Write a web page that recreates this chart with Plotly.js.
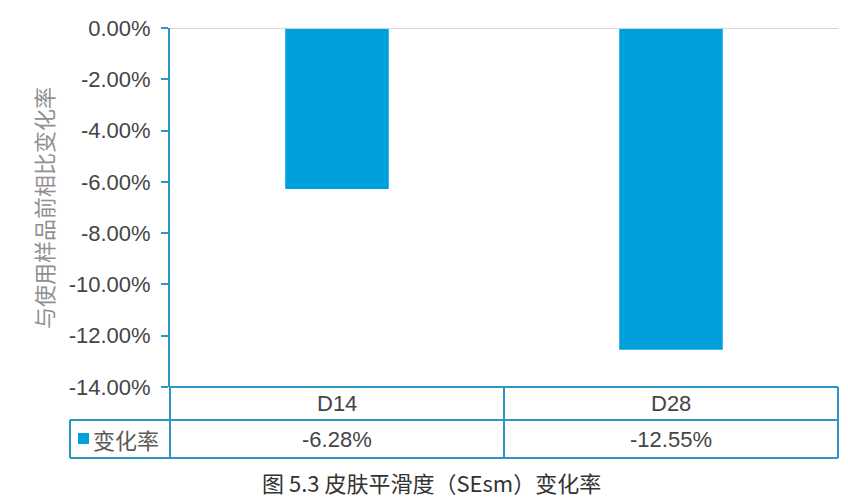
<!DOCTYPE html>
<html>
<head>
<meta charset="utf-8">
<script src="https://cdn.plot.ly/plotly-3.0.1.min.js"></script>
<style>
  html, body { margin: 0; padding: 0; background: #fff; }
  #chart { width: 848px; height: 498px; }
</style>
</head>
<body>
<div id="chart"></div>
<script>
// data
const categories = ["D14", "D28"];
const changeRate = [-6.28, -12.55];
const seriesName = "变化率";
const yTickVals = [0, -2, -4, -6, -8, -10, -12, -14];
const yTickText = ["0.00%", "-2.00%", "-4.00%", "-6.00%", "-8.00%", "-10.00%", "-12.00%", "-14.00%"];
const yTitle = "与使用样品前相比变化率";
const caption = "图 5.3 皮肤平滑度（SEsm）变化率";

const barColor = "#009fdd";
const lineColor = "#2a98c0";
const textColor = "#454545";
const latin = "Liberation Sans, Arial, sans-serif";
const cjk = "Noto Sans CJK SC, sans-serif";

// plot box in pixels, used to place the data table under the axis
const W = 848, H = 498;
const L = 170, R = 838, T = 28, B = 387;
const px = (x) => (x - L) / (R - L);
const py = (y) => (B - y) / (B - T);

const row1Bottom = 420;
const row2Bottom = 458;
const legendLeft = 70;

let trace = {
  x: categories,
  y: changeRate,
  type: "bar",
  name: seriesName,
  marker: { color: barColor },
  hoverinfo: "skip",
};

function seg(x0, y0, x1, y1, color, width) {
  return {
    type: "line", xref: "paper", yref: "paper",
    x0: px(x0), y0: py(y0), x1: px(x1), y1: py(y1),
    line: { color: color, width: width },
  };
}

let shapes = [
  // zero line along the top
  { type: "line", xref: "paper", yref: "y", x0: 0, x1: 1, y0: 0, y1: 0,
    line: { color: "#d4d4d4", width: 2 } },
  // data table grid
  seg(L, B, R, B, lineColor, 2),
  seg(legendLeft, row1Bottom, R, row1Bottom, lineColor, 2),
  seg(legendLeft, row2Bottom, R, row2Bottom, lineColor, 2),
  seg(L, B, L, row2Bottom, lineColor, 2),
  seg(R, B, R, row2Bottom, lineColor, 2),
  seg(legendLeft, row1Bottom, legendLeft, row2Bottom, lineColor, 2),
  { type: "line", xref: "x", yref: "paper", x0: 0.5, x1: 0.5,
    y0: py(B), y1: py(row2Bottom), line: { color: lineColor, width: 2 } },
  // legend key
  { type: "rect", xref: "paper", yref: "paper",
    x0: px(78), x1: px(89), y0: py(433), y1: py(444),
    fillcolor: barColor, line: { width: 0 } },
];

let annotations = [];
categories.forEach(function (c, i) {
  annotations.push({
    x: c, xref: "x", y: py((B + row1Bottom) / 2), yref: "paper",
    text: c, showarrow: false, yanchor: "middle",
    font: { family: latin, size: 22, color: textColor },
  });
  annotations.push({
    x: c, xref: "x", y: py((row1Bottom + row2Bottom) / 2), yref: "paper",
    text: changeRate[i].toFixed(2) + "%", showarrow: false, yanchor: "middle",
    font: { family: latin, size: 22, color: textColor },
  });
});
annotations.push({
  x: px(91), xref: "paper", y: py((row1Bottom + row2Bottom) / 2), yref: "paper",
  text: seriesName, showarrow: false, xanchor: "left", yanchor: "middle",
  font: { family: cjk, size: 22, color: "#5a5a5a" },
});
annotations.push({
  x: px(43), xref: "paper", y: py(208), yref: "paper",
  text: yTitle, textangle: -90, showarrow: false,
  xanchor: "center", yanchor: "middle",
  font: { family: cjk, size: 22, color: "#909090" },
});
annotations.push({
  x: px(431), xref: "paper", y: py(482), yref: "paper",
  text: caption, showarrow: false, xanchor: "center", yanchor: "middle",
  borderpad: 0,
  font: { family: cjk, size: 22, color: "#333333" },
});

let layout = {
  width: W,
  height: H,
  margin: { l: L, r: W - R, t: T, b: H - B, pad: 0 },
  paper_bgcolor: "#ffffff",
  plot_bgcolor: "#ffffff",
  showlegend: false,
  bargap: 0.69,
  xaxis: {
    type: "category",
    range: [-0.5, 1.5],
    showticklabels: false,
    ticks: "",
    showgrid: false,
    zeroline: false,
    showline: false,
    fixedrange: true,
  },
  yaxis: {
    range: [-14, 0],
    tickmode: "array",
    tickvals: yTickVals,
    ticktext: yTickText,
    ticks: "outside",
    ticklen: 7,
    tickwidth: 2,
    tickcolor: lineColor,
    ticklabelstandoff: 6,
    showline: true,
    linecolor: lineColor,
    linewidth: 2,
    showgrid: false,
    zeroline: false,
    tickfont: { family: latin, size: 22, color: textColor },
    fixedrange: true,
  },
  shapes: shapes,
  annotations: annotations,
};

Plotly.newPlot("chart", [trace], layout, { displayModeBar: false, staticPlot: true });
</script>
</body>
</html>
